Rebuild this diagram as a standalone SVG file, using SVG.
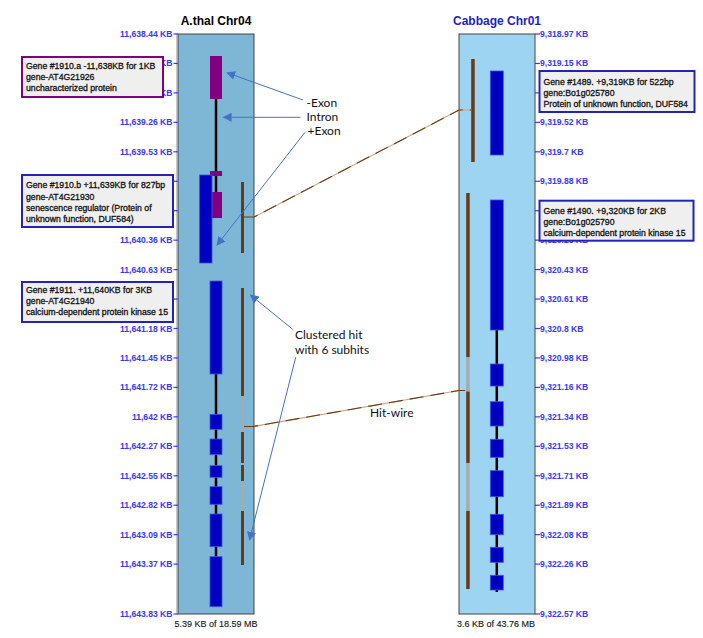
<svg xmlns="http://www.w3.org/2000/svg" width="703" height="638" viewBox="0 0 703 638">
<defs>
<marker id="ah" viewBox="0 0 10 10" refX="9" refY="5" markerWidth="9" markerHeight="9" markerUnits="userSpaceOnUse" orient="auto">
<path d="M0,0 L10,5 L0,10 z" fill="#4472c4"/>
</marker>
<style>
.title{font-family:"Liberation Sans",Arial,sans-serif;font-size:12px;font-weight:bold;text-anchor:middle}
.cap{font-family:"Liberation Sans",Arial,sans-serif;font-size:9px;fill:#222;text-anchor:middle;stroke:#222;stroke-width:0.15}
.tl{font-family:"Liberation Sans",Arial,sans-serif;font-size:8.6px;font-weight:bold;fill:#3838ff}
.tl.l{text-anchor:end}
.tick{stroke:#3838ff;stroke-width:1.2}
.panel{stroke:#444;stroke-width:1}
.exb{fill:#0000c0;stroke:#3b55e6;stroke-width:0.8}
.exp{fill:#800080}
.intron{stroke:#000;stroke-width:2.5}
.hit{fill:#6b3a10}
.hitg{fill:#aaaaaa}
.box{fill:#efefef;stroke-width:2}
.bt{font-family:"Liberation Sans",Arial,sans-serif;font-size:8.7px;fill:#111;stroke:#111;stroke-width:0.3}
.ann{font-family:Lato,"Open Sans",sans-serif;font-size:12px;fill:#111}
.arr{stroke:#4472c4;stroke-width:1;fill:none;marker-end:url(#ah)}
.wirebg{stroke:#c9a37e;stroke-width:1.1;fill:none}
.wire{stroke:#6b3a10;stroke-width:1.1;fill:none;stroke-dasharray:14 7}
</style>
</defs>
<rect width="703" height="638" fill="#ffffff"/>

<g id="left-track">
<text class="title" x="216" y="25" fill="#000">A.thal Chr04</text>
<line x1="176.5" y1="34" x2="176.5" y2="614" stroke="#c8c8c8" stroke-width="1"/>
<rect class="panel" x="178" y="34" width="76" height="580" fill="#7eb6d6"/>
<g>
<line class="tick" x1="173.5" y1="34" x2="178" y2="34"/><text class="tl l" x="172.5" y="37">11,638.44 KB</text>
<line class="tick" x1="173.5" y1="63.45" x2="178" y2="63.45"/><text class="tl l" x="172.5" y="66.45">11,638.71 KB</text>
<line class="tick" x1="173.5" y1="92.9" x2="178" y2="92.9"/><text class="tl l" x="172.5" y="95.9">11,638.99 KB</text>
<line class="tick" x1="173.5" y1="122.35" x2="178" y2="122.35"/><text class="tl l" x="172.5" y="125.35">11,639.26 KB</text>
<line class="tick" x1="173.5" y1="151.8" x2="178" y2="151.8"/><text class="tl l" x="172.5" y="154.8">11,639.53 KB</text>
<line class="tick" x1="173.5" y1="181.25" x2="178" y2="181.25"/>
<line class="tick" x1="173.5" y1="210.7" x2="178" y2="210.7"/>
<line class="tick" x1="173.5" y1="240.15" x2="178" y2="240.15"/><text class="tl l" x="172.5" y="243.15">11,640.36 KB</text>
<line class="tick" x1="173.5" y1="269.6" x2="178" y2="269.6"/><text class="tl l" x="172.5" y="272.6">11,640.63 KB</text>
<line class="tick" x1="173.5" y1="299.05" x2="178" y2="299.05"/>
<line class="tick" x1="173.5" y1="328.5" x2="178" y2="328.5"/><text class="tl l" x="172.5" y="331.5">11,641.18 KB</text>
<line class="tick" x1="173.5" y1="357.95" x2="178" y2="357.95"/><text class="tl l" x="172.5" y="360.95">11,641.45 KB</text>
<line class="tick" x1="173.5" y1="387.4" x2="178" y2="387.4"/><text class="tl l" x="172.5" y="390.4">11,641.72 KB</text>
<line class="tick" x1="173.5" y1="416.85" x2="178" y2="416.85"/><text class="tl l" x="172.5" y="419.85">11,642 KB</text>
<line class="tick" x1="173.5" y1="446.3" x2="178" y2="446.3"/><text class="tl l" x="172.5" y="449.3">11,642.27 KB</text>
<line class="tick" x1="173.5" y1="475.75" x2="178" y2="475.75"/><text class="tl l" x="172.5" y="478.75">11,642.55 KB</text>
<line class="tick" x1="173.5" y1="505.2" x2="178" y2="505.2"/><text class="tl l" x="172.5" y="508.2">11,642.82 KB</text>
<line class="tick" x1="173.5" y1="534.65" x2="178" y2="534.65"/><text class="tl l" x="172.5" y="537.65">11,643.09 KB</text>
<line class="tick" x1="173.5" y1="564.1" x2="178" y2="564.1"/><text class="tl l" x="172.5" y="567.1">11,643.37 KB</text>
<line class="tick" x1="173.5" y1="614" x2="178" y2="614"/><text class="tl l" x="172.5" y="617">11,643.83 KB</text>
</g>
<text class="cap" x="216" y="627">5.39 KB of 18.59 MB</text>
</g>

<g id="right-track">
<text class="title" x="497" y="25" fill="#1e1ec8">Cabbage Chr01</text>
<rect class="panel" x="459" y="34" width="76" height="580" fill="#9dd4f2"/>
<g>
<line class="tick" x1="535" y1="34" x2="540" y2="34"/><text class="tl" x="540" y="37">9,318.97 KB</text>
<line class="tick" x1="535" y1="63.45" x2="540" y2="63.45"/><text class="tl" x="540" y="66.45">9,319.15 KB</text>
<line class="tick" x1="535" y1="92.9" x2="540" y2="92.9"/>
<line class="tick" x1="535" y1="122.35" x2="540" y2="122.35"/><text class="tl" x="540" y="125.35">9,319.52 KB</text>
<line class="tick" x1="535" y1="151.8" x2="540" y2="151.8"/><text class="tl" x="540" y="154.8">9,319.7 KB</text>
<line class="tick" x1="535" y1="181.25" x2="540" y2="181.25"/><text class="tl" x="540" y="184.25">9,319.88 KB</text>
<line class="tick" x1="535" y1="210.7" x2="540" y2="210.7"/>
<line class="tick" x1="535" y1="240.15" x2="540" y2="240.15"/><text class="tl" x="540" y="243.15">9,320.25 KB</text>
<line class="tick" x1="535" y1="269.6" x2="540" y2="269.6"/><text class="tl" x="540" y="272.6">9,320.43 KB</text>
<line class="tick" x1="535" y1="299.05" x2="540" y2="299.05"/><text class="tl" x="540" y="302.05">9,320.61 KB</text>
<line class="tick" x1="535" y1="328.5" x2="540" y2="328.5"/><text class="tl" x="540" y="331.5">9,320.8 KB</text>
<line class="tick" x1="535" y1="357.95" x2="540" y2="357.95"/><text class="tl" x="540" y="360.95">9,320.98 KB</text>
<line class="tick" x1="535" y1="387.4" x2="540" y2="387.4"/><text class="tl" x="540" y="390.4">9,321.16 KB</text>
<line class="tick" x1="535" y1="416.85" x2="540" y2="416.85"/><text class="tl" x="540" y="419.85">9,321.34 KB</text>
<line class="tick" x1="535" y1="446.3" x2="540" y2="446.3"/><text class="tl" x="540" y="449.3">9,321.53 KB</text>
<line class="tick" x1="535" y1="475.75" x2="540" y2="475.75"/><text class="tl" x="540" y="478.75">9,321.71 KB</text>
<line class="tick" x1="535" y1="505.2" x2="540" y2="505.2"/><text class="tl" x="540" y="508.2">9,321.89 KB</text>
<line class="tick" x1="535" y1="534.65" x2="540" y2="534.65"/><text class="tl" x="540" y="537.65">9,322.08 KB</text>
<line class="tick" x1="535" y1="564.1" x2="540" y2="564.1"/><text class="tl" x="540" y="567.1">9,322.26 KB</text>
<line class="tick" x1="535" y1="614" x2="540" y2="614"/><text class="tl" x="540" y="617">9,322.57 KB</text>
</g>
<text class="cap" x="496" y="627">3.6 KB of 43.76 MB</text>
</g>

<g id="gene-1910a">
<line class="intron" x1="216" y1="99" x2="216" y2="192"/>
<rect class="exp" x="210" y="56" width="12" height="43"/>
<rect class="exp" x="210" y="171" width="12" height="5"/>
<rect class="exp" x="210" y="192" width="12" height="26"/>
</g>

<g id="gene-1910b">
<rect class="exb" x="199.5" y="175" width="12.5" height="88"/>
</g>

<g id="gene-1911">
<line class="intron" x1="216" y1="374" x2="216" y2="606"/>
<rect class="exb" x="210" y="281" width="12" height="93"/>
<rect class="exb" x="210" y="414.3" width="12" height="15"/>
<rect class="exb" x="210" y="439" width="12" height="15.7"/>
<rect class="exb" x="210" y="465.7" width="12" height="11.6"/>
<rect class="exb" x="210" y="486.7" width="12" height="17.6"/>
<rect class="exb" x="210" y="514" width="12" height="32.7"/>
<rect class="exb" x="210" y="556.7" width="12" height="50"/>
</g>

<g id="gene-1489">
<rect class="exb" x="490.3" y="71" width="13" height="84"/>
</g>

<g id="gene-1490">
<line class="intron" x1="496.8" y1="330" x2="496.8" y2="592"/>
<rect class="exb" x="490.3" y="200" width="13" height="130"/>
<rect class="exb" x="490.3" y="364" width="13" height="22"/>
<rect class="exb" x="490.3" y="401.7" width="13" height="24.3"/>
<rect class="exb" x="490.3" y="439.3" width="13" height="18"/>
<rect class="exb" x="490.3" y="470.7" width="13" height="26"/>
<rect class="exb" x="490.3" y="514.3" width="13" height="20.4"/>
<rect class="exb" x="490.3" y="547.3" width="13" height="15"/>
<rect class="exb" x="490.3" y="575.3" width="13" height="14.7"/>
</g>

<g id="hit-left-1">
<rect class="hit" x="241" y="182" width="3" height="71"/>
</g>
<g id="hit-left-2">
<rect class="hit" x="241" y="288" width="3" height="108"/>
<rect class="hitg" x="241" y="396" width="3" height="36"/>
<rect class="hit" x="241" y="432" width="3" height="31"/>
<rect class="hit" x="241" y="465" width="3" height="16"/>
<rect class="hitg" x="241" y="481" width="3" height="30"/>
<rect class="hit" x="241" y="511" width="3" height="54"/>
</g>
<g id="hit-right-1">
<rect class="hit" x="471.2" y="59" width="3.5" height="103"/>
</g>
<g id="hit-right-2">
<rect class="hit" x="466.2" y="193" width="3.5" height="164"/>
<rect class="hitg" x="466.2" y="357" width="3.5" height="34.5"/>
<rect class="hit" x="466.2" y="391.5" width="3.5" height="71.5"/>
<rect class="hitg" x="466.2" y="463" width="3.5" height="48"/>
<rect class="hit" x="466.2" y="511" width="3.5" height="78"/>
</g>

<g id="label-1910a">
<rect class="box" x="22" y="57" width="141" height="40" stroke="#800080"/>
<text class="bt" x="26" y="68.5">Gene #1910.a -11,638KB for 1KB</text>
<text class="bt" x="26" y="79.7">gene-AT4G21926</text>
<text class="bt" x="26" y="90.9">uncharacterized protein</text>
</g>
<g id="label-1910b">
<rect class="box" x="22" y="175" width="151" height="52" stroke="#2323b8"/>
<text class="bt" x="26" y="188.3">Gene #1910.b +11,639KB for 827bp</text>
<text class="bt" x="26" y="199.5">gene-AT4G21930</text>
<text class="bt" x="26" y="210.7">senescence regulator (Protein of</text>
<text class="bt" x="26" y="221.9">unknown function, DUF584)</text>
</g>
<g id="label-1911">
<rect class="box" x="22" y="282" width="151" height="40" stroke="#2323b8"/>
<text class="bt" x="26" y="292.5">Gene #1911. +11,640KB for 3KB</text>
<text class="bt" x="26" y="304">gene-AT4G21940</text>
<text class="bt" x="26" y="315.3">calcium-dependent protein kinase 15</text>
</g>
<g id="label-1489">
<rect class="box" x="539.5" y="71" width="155" height="41" stroke="#2323b8"/>
<text class="bt" x="543.5" y="85">Gene #1489. +9,319KB for 522bp</text>
<text class="bt" x="543.5" y="95.7">gene:Bo1g025780</text>
<text class="bt" x="543.5" y="106.5">Protein of unknown function, DUF584</text>
</g>
<g id="label-1490">
<rect class="box" x="539.5" y="200.7" width="154" height="40" stroke="#2323b8"/>
<text class="bt" x="543.5" y="213.5">Gene #1490. +9,320KB for 2KB</text>
<text class="bt" x="543.5" y="224.5">gene:Bo1g025790</text>
<text class="bt" x="543.5" y="235.5">calcium-dependent protein kinase 15</text>
</g>

<g id="connectors">
<polyline class="wirebg" points="244,217 254,217 459,110 471.2,110"/>
<polyline class="wire" points="244,217 254,217 459,110 471.2,110"/>
<polyline class="wirebg" points="244,426.5 253,426.5 459,390.5 466.2,390.5"/>
<polyline class="wire" points="244,426.5 253,426.5 459,390.5 466.2,390.5"/>
<line class="arr" x1="303" y1="100" x2="227" y2="72.7"/>
<line class="arr" x1="300.5" y1="117.3" x2="223.5" y2="117.3"/>
<line class="arr" x1="305" y1="132.3" x2="217" y2="245"/>
<line class="arr" x1="292.7" y1="329.3" x2="250.5" y2="295"/>
<line class="arr" x1="295.7" y1="357.3" x2="249.5" y2="540"/>
</g>

<g id="annotations">
<text class="ann" x="306.5" y="106.5">-Exon</text>
<text class="ann" x="306.5" y="121">Intron</text>
<text class="ann" x="307.5" y="135.3">+Exon</text>
<text class="ann" x="295" y="339.3">Clustered hit</text>
<text class="ann" x="295" y="353.6">with 6 subhits</text>
<text class="ann" x="370" y="416.7">Hit-wire</text>
</g>
</svg>
